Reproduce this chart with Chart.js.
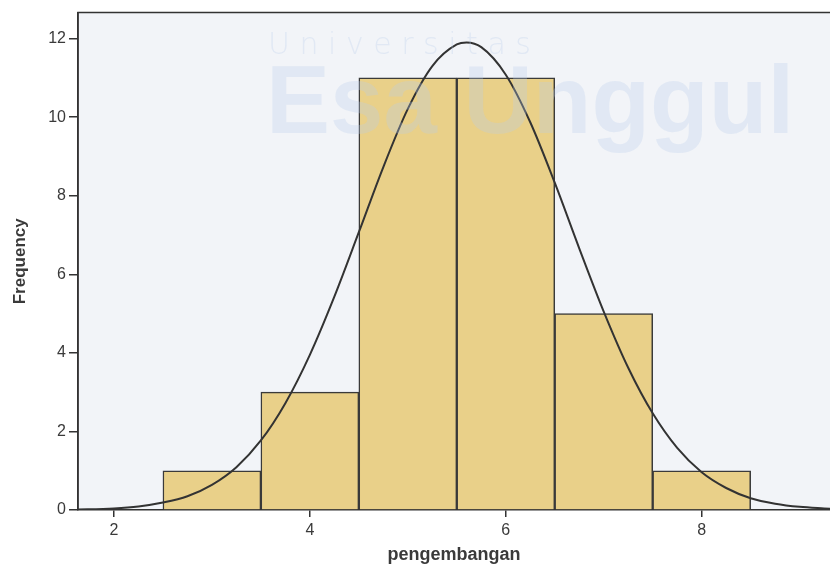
<!DOCTYPE html>
<html>
<head>
<meta charset="utf-8">
<script src="https://cdn.jsdelivr.net/npm/chart.js@4.4.1/dist/chart.umd.min.js"></script>
<style>
    html, body { margin: 0; padding: 0; background: #ffffff; }
    #wrap { width: 830px; height: 571px; }
</style>
</head>
<body>
<div id="wrap"><canvas id="histo"></canvas></div>
<script>
// histogram bins (centres) and counts
const binCenters = [3, 4, 5, 6, 7, 8];
const binCounts = [1, 3, 11, 11, 5, 1];

// normal curve
const curveX = [1.6, 2, 2.25, 2.5, 2.75, 3, 3.25, 3.5, 3.75, 4, 4.25, 4.5, 4.75, 5, 5.25, 5.5, 5.6,
    5.75, 6, 6.25, 6.5, 6.75, 7, 7.25, 7.5, 7.75, 8, 8.25, 8.5, 8.75, 9, 9.25, 9.4];
const curveY = [0.01, 0.04, 0.09, 0.19, 0.35, 0.64, 1.09, 1.77, 2.72, 3.95, 5.43, 7.07, 8.73, 10.21, 11.3, 11.85, 11.9,
    11.78, 11.08, 9.87, 8.33, 6.66, 5.05, 3.62, 2.46, 1.58, 0.96, 0.56, 0.3, 0.16, 0.08, 0.04, 0.02];

const xTicks = [2, 4, 6, 8];
const yTicks = [0, 2, 4, 6, 8, 10, 12];

const xTitle = 'pengembangan';
const yTitle = 'Frequency';

const fontFamily = '"Liberation Sans", Arial, sans-serif';
const inkColor = '#3a3a3a';

const frame = {
    id: 'frame',
    beforeDraw(chart) {
        const {ctx, chartArea: a} = chart;
        ctx.save();
        ctx.fillStyle = '#f2f4f8';
        ctx.fillRect(a.left, a.top, a.right - a.left, a.bottom - a.top);
        ctx.restore();
    },
    afterDatasetsDraw(chart) {
        // faint scanned watermark, lies over the bars too
        const {ctx} = chart;
        ctx.save();
        ctx.globalAlpha = 0.3;
        ctx.fillStyle = '#b9cdea';
        ctx.textBaseline = 'alphabetic';
        ctx.font = '300 30px "DejaVu Sans", sans-serif';
        ctx.fillText('U n i v e r s i t a s', 268, 54);
        ctx.font = 'bold 96px "Liberation Sans", sans-serif';
        ctx.fillText('Esa Unggul', 266, 133);
        ctx.restore();
    },
    afterDraw(chart) {
        const {ctx, chartArea: a} = chart;
        ctx.save();
        ctx.strokeStyle = '#333';
        ctx.lineWidth = 1.5;
        ctx.beginPath();
        ctx.moveTo(a.left, a.bottom);
        ctx.lineTo(a.left, a.top);
        ctx.lineTo(a.right + 2, a.top);
        ctx.stroke();
        ctx.restore();
    }
};

new Chart(document.getElementById('histo'), {
    data: {
        datasets: [
            {
                type: 'line',
                label: 'Normal',
                data: curveX.map((x, i) => ({x: x, y: curveY[i]})),
                borderColor: '#333333',
                borderWidth: 2,
                pointRadius: 0,
                cubicInterpolationMode: 'monotone',
                fill: false,
                order: 0
            },
            {
                type: 'bar',
                label: 'Frequency',
                data: binCenters.map((x, i) => ({x: x, y: binCounts[i]})),
                backgroundColor: '#e9d089',
                borderColor: '#3a3a3a',
                borderWidth: 1.5,
                barPercentage: 1,
                categoryPercentage: 1,
                order: 1
            }
        ]
    },
    options: {
        responsive: true,
        maintainAspectRatio: false,
        animation: false,
        layout: {padding: {top: 9, right: 0, left: 0, bottom: 0}},
        plugins: {
            legend: {display: false},
            tooltip: {enabled: false}
        },
        scales: {
            x: {
                type: 'linear',
                min: 1.633,
                max: 9.31,
                offset: false,
                afterBuildTicks: scale => { scale.ticks = xTicks.map(v => ({value: v})); },
                afterFit: scale => { scale.height = 61; },
                ticks: {
                    color: inkColor,
                    font: {family: fontFamily, size: 16},
                    padding: 4
                },
                grid: {
                    display: true,
                    offset: false,
                    drawOnChartArea: false,
                    drawTicks: true,
                    tickLength: 7,
                    color: '#333',
                    lineWidth: 1.5
                },
                border: {display: true, color: '#333', width: 1.5},
                title: {
                    display: true,
                    text: xTitle,
                    color: inkColor,
                    font: {family: fontFamily, size: 18, weight: 'bold'},
                    padding: {top: 0, bottom: 5}
                }
            },
            y: {
                min: 0,
                max: 12.66,
                afterBuildTicks: scale => { scale.ticks = yTicks.map(v => ({value: v})); },
                afterFit: scale => { scale.width = 78; },
                ticks: {
                    color: inkColor,
                    font: {family: fontFamily, size: 16},
                    padding: 3
                },
                grid: {
                    display: true,
                    drawOnChartArea: false,
                    drawTicks: true,
                    tickLength: 9,
                    color: '#333',
                    lineWidth: 1.5
                },
                border: {display: true, color: '#333', width: 1.5},
                title: {
                    display: true,
                    text: yTitle,
                    color: inkColor,
                    font: {family: fontFamily, size: 17, weight: 'bold'},
                    padding: {top: 10, bottom: 0}
                }
            }
        }
    },
    plugins: [frame]
});
</script>
</body>
</html>
